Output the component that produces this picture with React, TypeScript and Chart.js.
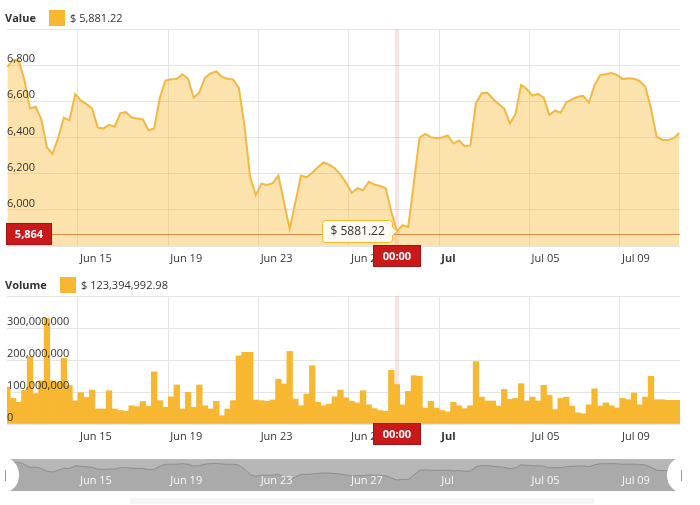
import React, { useEffect, useRef } from "react";
import { Chart, registerables } from "chart.js";

Chart.register(...registerables);

const FONT = "'Open Sans', 'Noto Sans', sans-serif";

// Time axis in days of June (Jul 1 = 31); one sample every 6 hours
const firstSampleDay = 11.875;
const sampleStepDays = 0.25;

const priceValues = [
  6790, 6830, 6825, 6720, 6560, 6570, 6500, 6345, 6310, 6400,
  6510, 6495, 6640, 6605, 6585, 6560, 6455, 6450, 6470, 6460,
  6535, 6540, 6510, 6505, 6500, 6440, 6450, 6620, 6715, 6722,
  6723, 6750, 6725, 6620, 6650, 6730, 6755, 6765, 6735, 6725,
  6720, 6674, 6460, 6180, 6082, 6145, 6137, 6148, 6190, 6040,
  5895, 6040, 6190, 6180, 6205, 6235, 6262, 6250, 6230, 6195,
  6150, 6093, 6120, 6108, 6155, 6140, 6132, 6120, 5990, 5881.22,
  5915, 5905, 6150, 6400, 6420, 6402, 6396, 6400, 6411, 6367,
  6383, 6352, 6356, 6590, 6645, 6647, 6614, 6585, 6560, 6478,
  6530, 6690, 6668, 6632, 6641, 6620, 6525, 6548, 6537, 6595,
  6610, 6625, 6630, 6592, 6690, 6745, 6750, 6756, 6745, 6723,
  6728, 6725, 6712, 6680, 6560, 6405, 6388, 6385, 6395, 6425,
];

const volumeMillions = [
  115, 80, 68, 105, 210, 95, 135, 330, 135, 130,
  205, 120, 72, 98, 83, 106, 47, 47, 104, 47,
  42, 40, 57, 54, 70, 55, 163, 73, 52, 85,
  122, 47, 99, 52, 122, 57, 47, 71, 26, 47,
  73, 213, 224, 224, 75, 73, 71, 75, 140, 125,
  227, 78, 57, 94, 182, 68, 57, 62, 85, 106,
  82, 71, 66, 104, 60, 48, 42, 40, 168, 123.39499298,
  60, 102, 151, 149, 50, 71, 50, 42, 38, 68,
  57, 48, 57, 195, 84, 72, 72, 56, 108, 77,
  80, 126, 72, 84, 72, 121, 90, 45, 80, 84,
  56, 35, 32, 60, 110, 56, 66, 57, 50, 80,
  76, 97, 60, 84, 149, 76, 76, 74, 74, 74,
];

const sampleDays = priceValues.map((_, i) => firstSampleDay + i * sampleStepDays);

const xTickDays = [15, 19, 23, 27, 31, 35, 39];
const xTickLabels = ["Jun 15", "Jun 19", "Jun 23", "Jun 27", "Jul", "Jul 05", "Jul 09"];
const monthStartDays = [31];

const priceTicks = [5800, 6000, 6200, 6400, 6600, 6800, 7000];
const priceLabelled = [6000, 6200, 6400, 6600, 6800];
const volumeTicks = [0, 100, 200, 300, 400];
const volumeLabelled = [0, 100, 200, 300];

const X_MIN = 11.856;
const X_MAX = 41.66;
const hoverIndex = 69;
const hoverTimeLabel = "00:00";
const currentPrice = 5864;
const currentPriceLabel = "5,864";
const valueLegend = "$ 5,881.22";
const volumeLegend = "$ 123,394,992.98";
const tooltipText = "$ 5881.22";

const ORANGE = "#f7b731";
const LINE = "#f1b843";
const FILL = "rgba(247,183,49,0.4)";
const GRID = "#e4e4e4";
const RED = "#c9191b";
const PINK = "rgba(236,150,150,0.28)";

function xScale(showLabels: boolean, height: number) {
  return {
    type: "linear",
    min: X_MIN,
    max: X_MAX,
    offset: false,
    afterBuildTicks: (s: any) => {
      s.ticks = xTickDays.map((v) => ({ value: v }));
    },
    afterFit: (s: any) => {
      s.height = height;
    },
    grid: { color: GRID, lineWidth: 1, drawTicks: false, offset: false },
    border: { display: false },
    ticks: {
      display: showLabels,
      autoSkip: false,
      maxRotation: 0,
      minRotation: 0,
      align: "start",
      labelOffset: 2,
      padding: 6,
      color: "#333",
      font: (c: any) => ({
        family: FONT,
        size: 11,
        weight: c.tick && monthStartDays.includes(c.tick.value) ? "bold" : "normal",
      }),
      callback: (v: any) => {
        const k = xTickDays.indexOf(v);
        return k >= 0 ? xTickLabels[k] : "";
      },
    },
  };
}

function redBadge(ctx: CanvasRenderingContext2D, cx: number, cy: number, w: number, h: number, text: string) {
  ctx.save();
  ctx.fillStyle = RED;
  ctx.fillRect(Math.round(cx - w / 2), Math.round(cy - h / 2), w, h);
  ctx.strokeStyle = "#a51214";
  ctx.lineWidth = 1;
  ctx.strokeRect(Math.round(cx - w / 2) + 0.5, Math.round(cy - h / 2) + 0.5, w - 1, h - 1);
  ctx.fillStyle = "#fff";
  ctx.font = `bold 11px ${FONT}`;
  ctx.textAlign = "center";
  ctx.textBaseline = "middle";
  ctx.fillText(text, cx, cy + 0.5);
  ctx.restore();
}

const crosshairPlugin = {
  id: "crosshairBand",
  beforeDatasetsDraw(chart: any) {
    const { ctx, chartArea } = chart;
    const x = chart.scales.x.getPixelForValue(sampleDays[hoverIndex]);
    ctx.save();
    ctx.fillStyle = PINK;
    ctx.fillRect(x - 2, chartArea.top, 4, chartArea.bottom - chartArea.top);
    ctx.restore();
  },
  afterDraw(chart: any) {
    const x = chart.scales.x.getPixelForValue(sampleDays[hoverIndex]);
    redBadge(chart.ctx, x, chart.chartArea.bottom + 10, 48, 22, hoverTimeLabel);
  },
};

const pricePlugin = {
  id: "priceExtras",
  afterDatasetsDraw(chart: any) {
    const { ctx, chartArea } = chart;
    const y = Math.round(chart.scales.y.getPixelForValue(currentPrice)) + 0.5;
    ctx.save();
    ctx.strokeStyle = "#d9894a";
    ctx.lineWidth = 1;
    ctx.beginPath();
    ctx.moveTo(chartArea.left, y);
    ctx.lineTo(chartArea.right, y);
    ctx.stroke();

    // tooltip callout
    const px = chart.scales.x.getPixelForValue(sampleDays[hoverIndex]);
    const py = chart.scales.y.getPixelForValue(priceValues[hoverIndex]);
    ctx.font = `12px ${FONT}`;
    const tw = ctx.measureText(tooltipText).width;
    const right = Math.round(px - 5) + 0.5;
    const w = Math.round(tw + 16);
    const left = right - w;
    const h = 22;
    const top = Math.round(py - h / 2) + 0.5;
    const bottom = top + h;
    const r = 3;
    ctx.beginPath();
    ctx.moveTo(left + r, top);
    ctx.lineTo(right - r, top);
    ctx.quadraticCurveTo(right, top, right, top + r);
    ctx.lineTo(right, py - 4);
    ctx.lineTo(px, py);
    ctx.lineTo(right, py + 4);
    ctx.lineTo(right, bottom - r);
    ctx.quadraticCurveTo(right, bottom, right - r, bottom);
    ctx.lineTo(left + r, bottom);
    ctx.quadraticCurveTo(left, bottom, left, bottom - r);
    ctx.lineTo(left, top + r);
    ctx.quadraticCurveTo(left, top, left + r, top);
    ctx.closePath();
    ctx.fillStyle = "rgba(255,253,246,0.95)";
    ctx.fill();
    ctx.strokeStyle = ORANGE;
    ctx.stroke();
    ctx.fillStyle = "#333";
    ctx.textAlign = "left";
    ctx.textBaseline = "middle";
    ctx.fillText(tooltipText, left + 8, top + h / 2 + 0.5);
    ctx.restore();
  },
  afterDraw(chart: any) {
    const y = chart.scales.y.getPixelForValue(currentPrice);
    redBadge(chart.ctx, 29, y, 46, 22, currentPriceLabel);
  },
};

const navigatorPlugin = {
  id: "navigatorExtras",
  beforeDatasetsDraw(chart: any) {
    const { ctx, chartArea } = chart;
    ctx.save();
    ctx.fillStyle = "#b7b7b7";
    ctx.fillRect(chartArea.left, chartArea.top, chartArea.right - chartArea.left, chartArea.bottom - chartArea.top);
    ctx.restore();
  },
  afterDatasetsDraw(chart: any) {
    const { ctx, chartArea } = chart;
    const xs = chart.scales.x;
    ctx.save();
    ctx.fillStyle = "rgba(255,255,255,0.9)";
    ctx.font = `11px ${FONT}`;
    ctx.textAlign = "left";
    ctx.textBaseline = "middle";
    xTickDays.forEach((d, k) => {
      ctx.fillText(xTickLabels[k], xs.getPixelForValue(d) + 2, chartArea.top + 22);
    });
    const cy = (chartArea.top + chartArea.bottom) / 2;
    const hh = (chartArea.bottom - chartArea.top) / 2 + 1;
    ctx.fillStyle = "#ffffff";
    ctx.beginPath();
    ctx.ellipse(chartArea.left - 2, cy, 14, hh, 0, -Math.PI / 2, Math.PI / 2);
    ctx.fill();
    ctx.beginPath();
    ctx.ellipse(chartArea.right + 1, cy, 14, hh, 0, Math.PI / 2, (3 * Math.PI) / 2);
    ctx.fill();
    ctx.strokeStyle = "#9a9a9a";
    ctx.lineWidth = 1;
    ctx.beginPath();
    ctx.moveTo(chartArea.left - 1.5, cy - 5);
    ctx.lineTo(chartArea.left - 1.5, cy + 6);
    ctx.moveTo(chartArea.right + 1.5, cy - 5);
    ctx.lineTo(chartArea.right + 1.5, cy + 6);
    ctx.stroke();
    // faint scrollbar underneath
    ctx.fillStyle = "#f5f5f5";
    ctx.fillRect(130, chartArea.bottom + 7, 464, 6);
    ctx.restore();
  },
};

export default function App() {
  const priceRef = useRef<HTMLCanvasElement>(null);
  const volRef = useRef<HTMLCanvasElement>(null);
  const navRef = useRef<HTMLCanvasElement>(null);

  useEffect(() => {
    const charts: Chart[] = [];
    const pricePoints = sampleDays.map((d, i) => ({ x: d, y: priceValues[i] }));
    const volumePoints = sampleDays.map((d, i) => ({ x: d, y: volumeMillions[i] }));

    charts.push(
      new Chart(priceRef.current as HTMLCanvasElement, {
        type: "line",
        data: {
          datasets: [
            {
              data: pricePoints,
              borderColor: LINE,
              backgroundColor: FILL,
              borderWidth: 2,
              fill: "start",
              pointRadius: 0,
              tension: 0,
            },
          ],
        },
        options: {
          animation: false,
          responsive: false,
          maintainAspectRatio: false,
          events: [],
          layout: { padding: { left: 0, right: 20, top: 29, bottom: 0 } },
          plugins: { legend: { display: false }, tooltip: { enabled: false } },
          scales: {
            x: xScale(true, 29) as any,
            y: {
              min: 5800,
              max: 7000,
              afterBuildTicks: (s: any) => {
                s.ticks = priceTicks.map((v) => ({ value: v }));
              },
              afterFit: (s: any) => {
                s.width = 7;
              },
              grid: { color: GRID, lineWidth: 1, drawTicks: false },
              border: { display: false },
              ticks: {
                z: 1,
                mirror: true,
                padding: 0,
                labelOffset: -6,
                color: "#333",
                font: { family: FONT, size: 11 },
                callback: (v: any) => (priceLabelled.includes(v) ? Number(v).toLocaleString("en-US") : ""),
              },
            },
          },
        } as any,
        plugins: [crosshairPlugin, pricePlugin],
      })
    );

    charts.push(
      new Chart(volRef.current as HTMLCanvasElement, {
        type: "bar",
        data: {
          datasets: [
            {
              data: volumePoints,
              backgroundColor: ORANGE,
              borderWidth: 0,
              barPercentage: 1,
              categoryPercentage: 1,
            },
          ],
        },
        options: {
          animation: false,
          responsive: false,
          maintainAspectRatio: false,
          events: [],
          layout: { padding: { left: 0, right: 20, top: 26, bottom: 0 } },
          plugins: { legend: { display: false }, tooltip: { enabled: false } },
          scales: {
            x: xScale(true, 26) as any,
            y: {
              min: 0,
              max: 400,
              afterBuildTicks: (s: any) => {
                s.ticks = volumeTicks.map((v) => ({ value: v }));
              },
              afterFit: (s: any) => {
                s.width = 7;
              },
              grid: { color: GRID, lineWidth: 1, drawTicks: false },
              border: { display: false },
              ticks: {
                z: 1,
                mirror: true,
                padding: 0,
                labelOffset: -6,
                color: "#333",
                font: { family: FONT, size: 11 },
                callback: (v: any) =>
                  volumeLabelled.includes(v) ? (Number(v) * 1000000).toLocaleString("en-US") : "",
              },
            },
          },
        } as any,
        plugins: [crosshairPlugin],
      })
    );

    charts.push(
      new Chart(navRef.current as HTMLCanvasElement, {
        type: "line",
        data: {
          datasets: [
            {
              data: pricePoints,
              borderColor: "#8e8e8e",
              backgroundColor: "rgba(120,120,120,0.2)",
              borderWidth: 1,
              fill: "start",
              pointRadius: 0,
              tension: 0,
            },
          ],
        },
        options: {
          animation: false,
          responsive: false,
          maintainAspectRatio: false,
          events: [],
          layout: { padding: { left: 7, right: 20, top: 9, bottom: 14 } },
          plugins: { legend: { display: false }, tooltip: { enabled: false } },
          scales: {
            x: { type: "linear", display: false, min: X_MIN, max: X_MAX },
            y: { display: false, min: 5300, max: 7000 },
          },
        } as any,
        plugins: [navigatorPlugin],
      })
    );

    return () => charts.forEach((c) => c.destroy());
  }, []);

  const legendText: React.CSSProperties = {
    position: "absolute",
    fontFamily: FONT,
    fontSize: 11,
    lineHeight: "16px",
    color: "#333",
    whiteSpace: "nowrap",
  };

  return (
    <div
      style={{
        position: "fixed",
        left: 0,
        top: 0,
        width: 700,
        height: 505,
        background: "#fff",
        overflow: "hidden",
      }}
    >
      <canvas ref={priceRef} width={700} height={275} style={{ position: "absolute", left: 0, top: 0, width: 700, height: 275 }} />
      <canvas ref={volRef} width={700} height={180} style={{ position: "absolute", left: 0, top: 270, width: 700, height: 180 }} />
      <canvas ref={navRef} width={700} height={55} style={{ position: "absolute", left: 0, top: 450, width: 700, height: 55 }} />

      <div style={{ ...legendText, left: 5, top: 10, fontWeight: "bold" }}>Value</div>
      <div style={{ position: "absolute", left: 49, top: 10, width: 16, height: 16, background: ORANGE }} />
      <div style={{ ...legendText, left: 70, top: 10 }}>{valueLegend}</div>

      <div style={{ ...legendText, left: 5, top: 277, fontWeight: "bold" }}>Volume</div>
      <div style={{ position: "absolute", left: 60, top: 277, width: 16, height: 16, background: ORANGE }} />
      <div style={{ ...legendText, left: 81, top: 277 }}>{volumeLegend}</div>
    </div>
  );
}
